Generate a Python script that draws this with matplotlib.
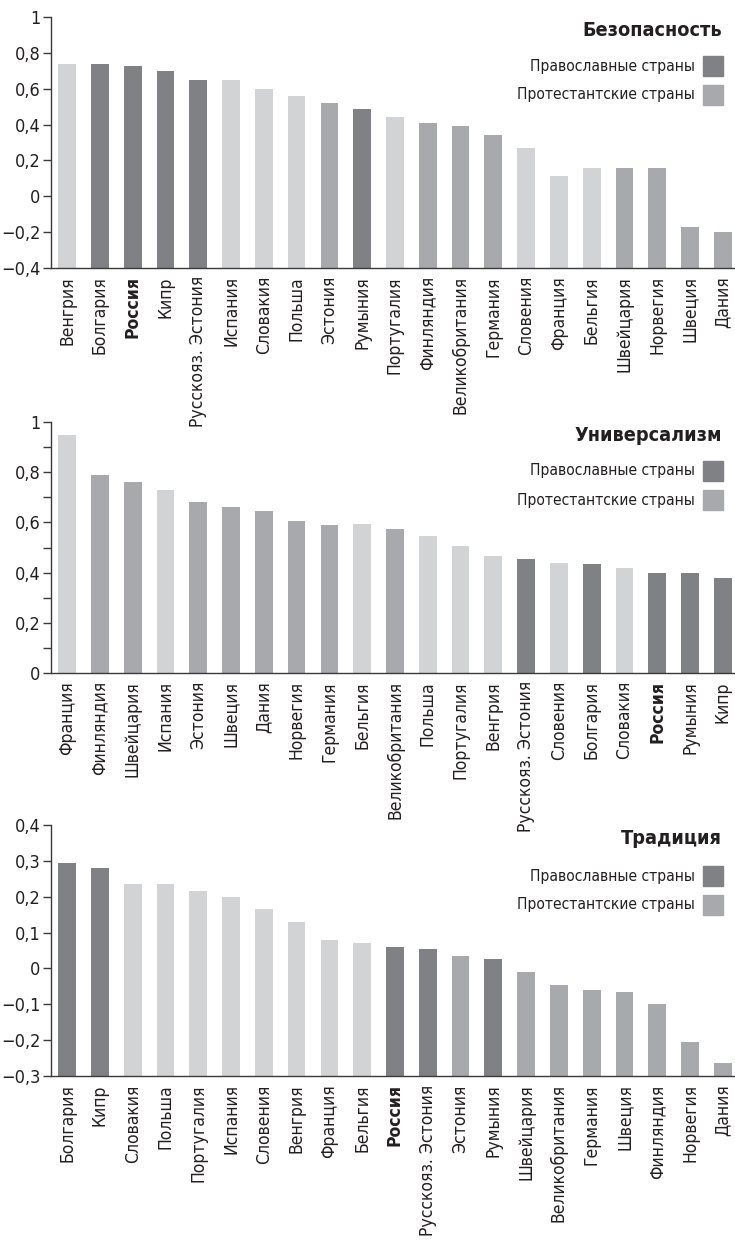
import matplotlib
matplotlib.use("Agg")
import matplotlib.pyplot as plt
from matplotlib.patches import Rectangle
from matplotlib.ticker import FuncFormatter, MultipleLocator

plt.rcParams['font.family'] = ['DejaVu Sans']
plt.rcParams['font.stretch'] = 'condensed'

# группы: o - православные, p - протестантские, c - католические
bez_countries = ['Венгрия', 'Болгария', 'Россия', 'Кипр', 'Русскояз. Эстония', 'Испания',
                 'Словакия', 'Польша', 'Эстония', 'Румыния', 'Португалия', 'Финляндия',
                 'Великобритания', 'Германия', 'Словения', 'Франция', 'Бельгия',
                 'Швейцария', 'Норвегия', 'Швеция', 'Дания']
bez_values = [0.74, 0.74, 0.73, 0.70, 0.65, 0.65, 0.60, 0.56, 0.52, 0.49, 0.44, 0.41,
              0.395, 0.34, 0.27, 0.115, 0.155, 0.155, 0.155, -0.17, -0.20]
bez_groups = ['c', 'o', 'o', 'o', 'o', 'c', 'c', 'c', 'p', 'o', 'c', 'p',
              'p', 'p', 'c', 'c', 'c', 'p', 'p', 'p', 'p']

uni_countries = ['Франция', 'Финляндия', 'Швейцария', 'Испания', 'Эстония', 'Швеция',
                 'Дания', 'Норвегия', 'Германия', 'Бельгия', 'Великобритания', 'Польша',
                 'Португалия', 'Венгрия', 'Русскояз. Эстония', 'Словения', 'Болгария',
                 'Словакия', 'Россия', 'Румыния', 'Кипр']
uni_values = [0.95, 0.79, 0.76, 0.73, 0.68, 0.66, 0.645, 0.605, 0.59, 0.595, 0.575, 0.545,
              0.505, 0.465, 0.455, 0.44, 0.435, 0.42, 0.40, 0.40, 0.38]
uni_groups = ['c', 'p', 'p', 'c', 'p', 'p', 'p', 'p', 'p', 'c', 'p', 'c',
              'c', 'c', 'o', 'c', 'o', 'c', 'o', 'o', 'o']

tra_countries = ['Болгария', 'Кипр', 'Словакия', 'Польша', 'Португалия', 'Испания',
                 'Словения', 'Венгрия', 'Франция', 'Бельгия', 'Россия', 'Русскояз. Эстония',
                 'Эстония', 'Румыния', 'Швейцария', 'Великобритания', 'Германия', 'Швеция',
                 'Финляндия', 'Норвегия', 'Дания']
tra_values = [0.295, 0.28, 0.235, 0.235, 0.215, 0.20, 0.165, 0.13, 0.08, 0.07, 0.06, 0.055,
              0.035, 0.025, -0.01, -0.047, -0.059, -0.067, -0.10, -0.205, -0.265]
tra_groups = ['o', 'o', 'c', 'c', 'c', 'c', 'c', 'c', 'c', 'c', 'o', 'o',
              'p', 'o', 'p', 'p', 'p', 'p', 'p', 'p', 'p']

colors = {'o': '#808185', 'p': '#a8a9ac', 'c': '#d2d3d5'}
axis_col = '#3a3a3a'
txt_col = '#231f20'

W, H = 735, 1251
fig = plt.figure(figsize=(W / 100, H / 100), dpi=100)


def fmt(v, pos):
    if abs(v - round(v)) < 1e-9:
        s = str(int(round(v)))
    else:
        s = f"{v:.1f}".replace('.', ',')
    return s.replace('-', '\u2212')


def panel(top_px, bot_px, countries, values, groups, ylim, major, minor, title, ttl_y, sq_y):
    ax = fig.add_axes([51 / W, 1 - bot_px / H, (W - 51) / W, (bot_px - top_px) / H])
    ax.patch.set_visible(False)
    x = range(len(countries))
    ax.bar(x, [v - ylim[0] for v in values], bottom=ylim[0], width=0.54,
           color=[colors[g] for g in groups])
    ax.set_ylim(*ylim)
    ax.set_xlim(-0.49, len(countries) - 1 + 0.37)
    for s in ['top', 'right']:
        ax.spines[s].set_visible(False)
    for s in ['left', 'bottom']:
        ax.spines[s].set_color(axis_col)
        ax.spines[s].set_linewidth(1.0)
    ax.yaxis.set_major_locator(MultipleLocator(major))
    if minor:
        ax.yaxis.set_minor_locator(MultipleLocator(minor))
        ax.tick_params(axis='y', which='minor', length=6, color=axis_col, width=1)
    ax.yaxis.set_major_formatter(FuncFormatter(fmt))
    ax.tick_params(axis='y', which='major', length=6, color=axis_col, width=1,
                   labelsize=13, pad=1.5, labelcolor=txt_col)
    ax.set_xticks(list(x))
    ax.set_xticklabels(countries, rotation=90, va='top', ha='center', fontsize=12.6,
                       color=txt_col)
    ax.tick_params(axis='x', length=0, pad=6)
    for lbl in ax.get_xticklabels():
        if lbl.get_text() == 'Россия':
            lbl.set_fontweight('bold')

    fig.text(722 / W, 1 - ttl_y / H, title, ha='right', va='center',
             fontsize=14.2, fontweight='bold', color=txt_col)
    for i, (name, g) in enumerate([('Православные страны', 'o'), ('Протестантские страны', 'p')]):
        y0 = sq_y + i * 29
        fig.patches.append(Rectangle((703 / W, 1 - (y0 + 20) / H), 20 / W, 20 / H,
                                     transform=fig.transFigure, color=colors[g], figure=fig))
        fig.text(695 / W, 1 - (y0 + 10) / H, name, ha='right', va='center',
                 fontsize=11.2, color=txt_col)
    return ax


panel(17.3, 267.7, bez_countries, bez_values, bez_groups, (-0.4, 1.0), 0.2, None,
      'Безопасность', 31, 56)
panel(422.3, 672.7, uni_countries, uni_values, uni_groups, (0.0, 1.0), 0.2, 0.1,
      'Универсализм', 435, 461)
panel(825, 1076, tra_countries, tra_values, tra_groups, (-0.3, 0.4), 0.1, None,
      'Традиция', 838, 866)

fig.savefig('out.png', dpi=100)
